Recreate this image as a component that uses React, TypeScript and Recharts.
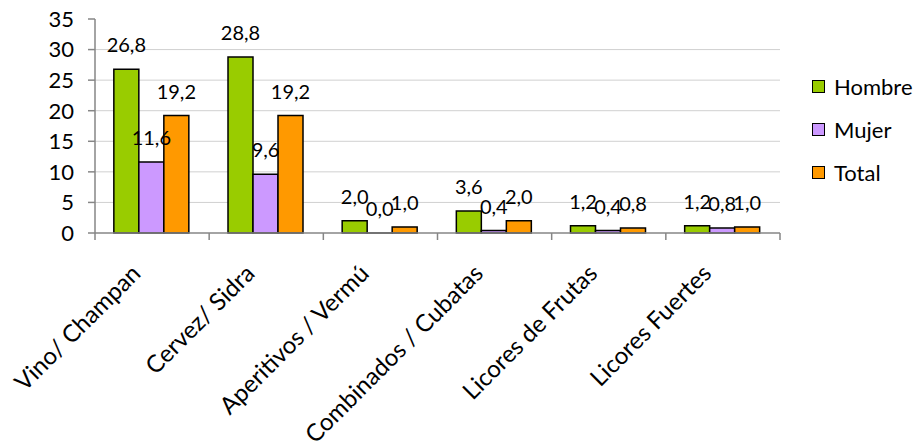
import { BarChart, Bar, XAxis, YAxis, CartesianGrid, LabelList } from 'recharts';

const categories = [
  'Vino/ Champan',
  'Cervez/ Sidra',
  'Aperitivos / Vermú',
  'Combinados / Cubatas',
  'Licores de Frutas',
  'Licores Fuertes',
];
const hombre = [26.8, 28.8, 2.0, 3.6, 1.2, 1.2];
const mujer = [11.6, 9.6, 0.0, 0.4, 0.4, 0.8];
const total = [19.2, 19.2, 1.0, 2.0, 0.8, 1.0];
const yTicks = [0, 5, 10, 15, 20, 25, 30, 35];
const gridValues = [5, 10, 15, 20, 25, 30];

const series = [
  { key: 'Hombre', color: '#99CC00' },
  { key: 'Mujer', color: '#CC99FF' },
  { key: 'Total', color: '#FF9900' },
];

const data = categories.map((name, i) => ({
  name,
  Hombre: hombre[i],
  Mujer: mujer[i],
  Total: total[i],
}));

const FONT = 'Lato, sans-serif';
const AXIS = '#868686';

const fmt = (v: any) => Number(v).toFixed(1).replace('.', ',');

// Excel puts the category tick marks on the band edges, not the centres
function CategoryTick({ x, y, payload, index, width, visibleTicksCount }: any) {
  const half = payload.offset || width / (2 * visibleTicksCount);
  const last = index === visibleTicksCount - 1;
  return (
    <g>
      <line x1={x - half} x2={x - half} y1={y} y2={y + 7} stroke={AXIS} strokeWidth={1.5} />
      {last && <line x1={x + half} x2={x + half} y1={y} y2={y + 7} stroke={AXIS} strokeWidth={1.5} />}
      <g transform={`translate(${x - 10},${y + 42})`}>
        <text
          x={0}
          y={0}
          textAnchor="end"
          transform="rotate(-45)"
          fontSize={24}
          fontFamily={FONT}
          fill="#000"
        >
          {payload.value}
        </text>
      </g>
    </g>
  );
}

function LegendBox() {
  return (
    <div
      style={{
        position: 'absolute',
        left: 812,
        top: 65,
        width: 111,
        fontFamily: FONT,
        fontSize: 22,
        color: '#000',
      }}
    >
      {series.map((s) => (
        <div key={s.key} style={{ display: 'flex', alignItems: 'center', height: 43 }}>
          <span
            style={{
              display: 'inline-block',
              width: 11,
              height: 11,
              background: s.color,
              border: '1.5px solid #000',
              marginRight: 9,
            }}
          />
          <span>{s.key}</span>
        </div>
      ))}
    </div>
  );
}

export default function App() {
  return (
    <div style={{ position: 'absolute', left: 0, top: 0, width: 923, height: 448, background: '#fff' }}>
      <BarChart
        width={923}
        height={448}
        data={data}
        margin={{ top: 19, right: 143, bottom: 214, left: 35 }}
        barCategoryGap="16.5%"
        barGap={0}
        style={{ fontFamily: FONT }}
      >
        <CartesianGrid horizontal vertical={false} horizontalValues={gridValues} stroke="#d0d0d0" />
        <XAxis
          dataKey="name"
          height={1}
          interval={0}
          tickLine={false}
          tickSize={0}
          tickMargin={0}
          axisLine={{ stroke: AXIS, strokeWidth: 1.5 }}
          tick={<CategoryTick />}
        />
        <YAxis
          width={60}
          domain={[0, 35]}
          ticks={yTicks}
          interval={0}
          tickSize={7}
          tickMargin={14}
          axisLine={{ stroke: AXIS, strokeWidth: 1.5 }}
          tickLine={{ stroke: AXIS, strokeWidth: 1.5 }}
          tick={{ fontSize: 22, fill: '#000', fontFamily: FONT }}
        />
        {series.map((s) => (
          <Bar
            key={s.key}
            dataKey={s.key}
            fill={s.color}
            stroke="#000"
            strokeWidth={1.5}
            minPointSize={0.01}
            isAnimationActive={false}
          >
            <LabelList dataKey={s.key} position="top" offset={17} formatter={fmt} fontSize={20} fill="#000" fontFamily={FONT} />
          </Bar>
        ))}
      </BarChart>
      <LegendBox />
    </div>
  );
}
